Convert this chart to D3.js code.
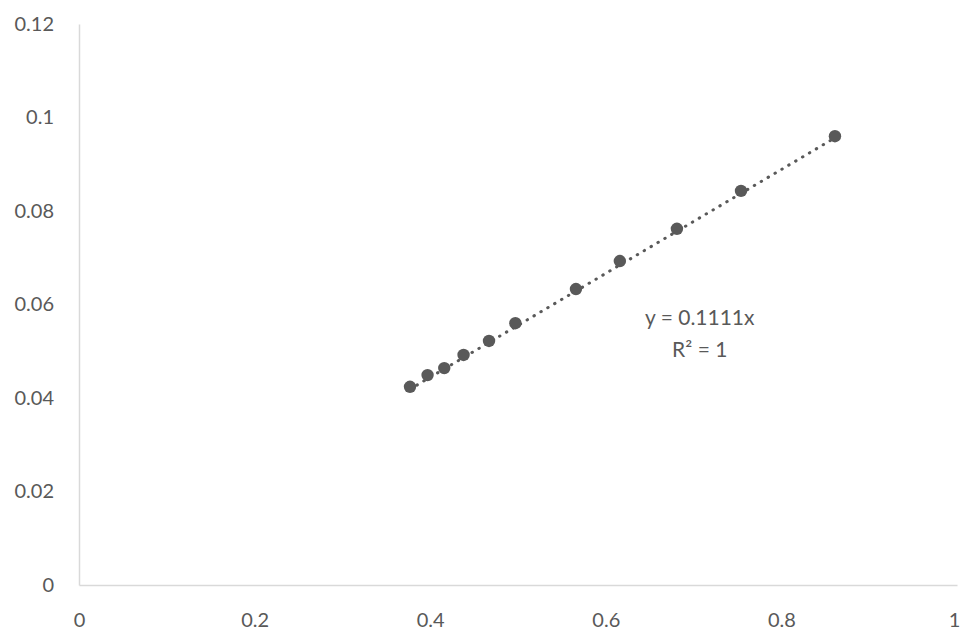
<!DOCTYPE html>
<html>
<head>
<meta charset="utf-8">
<script src="https://cdn.jsdelivr.net/npm/d3@7"></script>
<style>
  body { margin: 0; background: #fff; }
  svg { display: block; }
  .tick text { font-family: Lato, "Open Sans", sans-serif; fill: #595959; }
</style>
</head>
<body>
<div id="chart"></div>
<script>
// Values
const xValues = [0.377, 0.397, 0.416, 0.438, 0.467, 0.497, 0.566, 0.616, 0.681, 0.754, 0.861];
const yValues = [0.0424, 0.0449, 0.0464, 0.0492, 0.0522, 0.0560, 0.0633, 0.0693, 0.0762, 0.0843, 0.0960];
const xTicks = [0, 0.2, 0.4, 0.6, 0.8, 1];
const yTicks = [0, 0.02, 0.04, 0.06, 0.08, 0.1, 0.12];
const slope = 0.1111;
const trendLabels = ['y = 0.1111x', 'R² = 1'];

const width = 961, height = 633;
const margin = { top: 24, right: 4, bottom: 48, left: 79 };
const innerW = width - margin.left - margin.right;
const innerH = height - margin.top - margin.bottom;

const svg = d3.select('#chart')
  .append('svg')
  .attr('width', width)
  .attr('height', height);

const g = svg.append('g')
  .attr('transform', `translate(${margin.left},${margin.top})`);

const x = d3.scaleLinear().domain([0, 1]).range([0, innerW]);
const y = d3.scaleLinear().domain([0, 0.12]).range([innerH, 0]);

// Axes - no tick marks, only the light grey axis lines
const xAxis = g.append('g')
  .attr('transform', `translate(0,${innerH})`)
  .call(d3.axisBottom(x).tickValues(xTicks).tickSize(0).tickPadding(28).tickFormat(d3.format('~g')));
xAxis.select('.domain').attr('stroke', '#d9d9d9').attr('stroke-width', 1.5);
xAxis.selectAll('text').style('font-size', '20px');
// last label sits right at the window edge, pull it in a touch
xAxis.selectAll('.tick').filter(d => d === 1).select('text').attr('dx', -3);

const yAxis = g.append('g')
  .call(d3.axisLeft(y).tickValues(yTicks).tickSize(0).tickPadding(25).tickFormat(d3.format('~g')));
yAxis.select('.domain').attr('stroke', '#d9d9d9').attr('stroke-width', 1.5);
yAxis.selectAll('text').style('font-size', '20px');

const data = xValues.map((v, i) => ({ x: v, y: yValues[i] }));

// Linear trendline through the origin
const xExtent = d3.extent(xValues);
const line = d3.line()
  .x(d => x(d))
  .y(d => y(slope * d));

g.append('path')
  .datum(xExtent)
  .attr('fill', 'none')
  .attr('stroke', '#595959')
  .attr('stroke-width', 3)
  .attr('stroke-linecap', 'round')
  .attr('stroke-dasharray', '0.5,7.5')
  .attr('d', line);

// Points
g.selectAll('circle.pt')
  .data(data)
  .enter()
  .append('circle')
  .attr('class', 'pt')
  .attr('cx', d => x(d.x))
  .attr('cy', d => y(d.y))
  .attr('r', 6.2)
  .attr('fill', '#595959');

// Trendline label
const label = g.append('text')
  .attr('y', y(0.0557))
  .attr('text-anchor', 'middle')
  .style('font-family', 'Lato, "Open Sans", sans-serif')
  .style('font-size', '21px')
  .style('fill', '#595959');

label.selectAll('tspan')
  .data(trendLabels)
  .enter()
  .append('tspan')
  .attr('x', x(0.707))
  .attr('dy', (d, i) => i === 0 ? 0 : 32)
  .text(d => d);
</script>
</body>
</html>
